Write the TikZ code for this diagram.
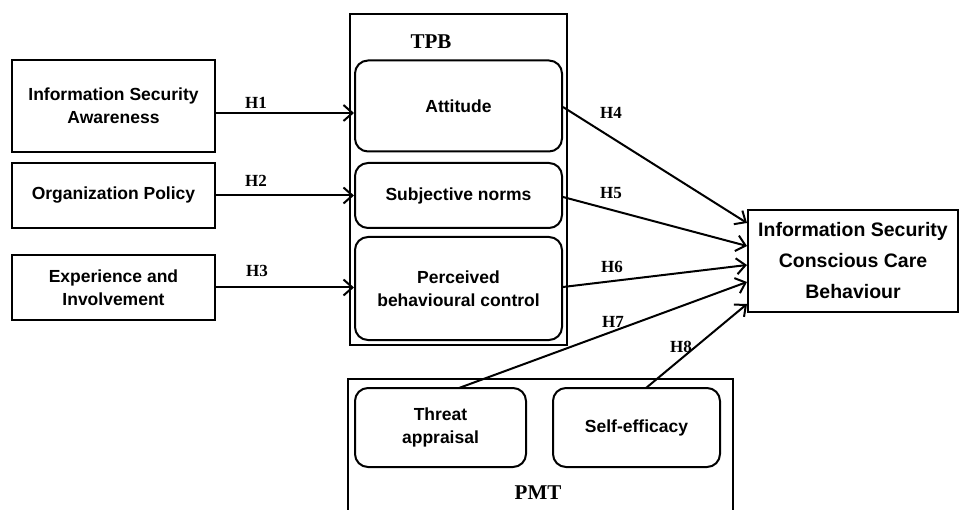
\documentclass[tikz,border=0pt]{standalone}
\usepackage{fontspec}
\setmainfont{Liberation Sans}
\newfontfamily\serifb{Liberation Serif}
\usetikzlibrary{arrows.meta}
\begin{document}
\begin{tikzpicture}[x=1pt,y=-1pt,
  box/.style={draw,line width=2.2pt,align=center,font=\fontsize{17.5}{23}\selectfont\bfseries,inner sep=0pt},
  rbox/.style={box,rounded corners=13pt,line width=2pt},
  outer/.style={draw,line width=2pt},
  hlab/.style={font=\serifb\fontsize{17}{20}\selectfont\bfseries,inner sep=0pt},
  ttl/.style={font=\serifb\fontsize{21}{24}\selectfont\bfseries,inner sep=0pt},
  arr/.style={line width=2pt,-{Straight Barb[length=9pt,width=16pt,line width=2pt]}}]
\useasboundingbox (0,0) rectangle (960,510);
\fill[white] (0,0) rectangle (960,510);
% outer frames
\draw[outer] (350,14) rectangle (567,345);
\node[ttl] (tpb) at (431,42) {TPB};
\draw[outer] (348,379) rectangle (733,520);
\node[ttl] (pmt) at (538,493) {PMT};
% left boxes
\node[box,minimum width=203pt,minimum height=92pt] (isa) at (113.5,106) {Information Security\\Awareness};
\node[box,minimum width=203pt,minimum height=65pt] (op) at (113.5,195.5) {Organization Policy};
\node[box,minimum width=203pt,minimum height=65pt] (ei) at (113.5,287.5) {Experience and\\Involvement};
% TPB inner
\node[rbox,minimum width=207pt,minimum height=91pt] (att) at (458.5,106) {Attitude};
\node[rbox,minimum width=207pt,minimum height=65pt] (sn) at (458.5,195.5) {Subjective norms};
\node[rbox,minimum width=207pt,minimum height=103pt] (pbc) at (458.5,288.5) {Perceived\\behavioural control};
% PMT inner
\node[rbox,minimum width=171pt,minimum height=79pt] (ta) at (440.5,427.5) {Threat\\appraisal};
\node[rbox,minimum width=167pt,minimum height=79pt] (se) at (636.5,427.5) {Self-efficacy};
% outcome
\node[box,minimum width=210pt,minimum height=102pt,font=\fontsize{19.5}{31}\selectfont\bfseries] (out) at (853,261) {Information Security\\Conscious Care\\Behaviour};
% arrows
\draw[arr] (isa.east |- 0,113) -- (att.west |- 0,113);
\draw[arr] (op.east) -- (sn.west);
\draw[arr] (ei.east) -- (pbc.west |- ei.east);
\coordinate (t4) at (747,223);
\coordinate (t5) at (747,246);
\coordinate (t6) at (747,265);
\coordinate (t7) at (747,282);
\coordinate (t8) at (747,304);
\draw[arr] (att.east |- 0,107) -- (t4);
\draw[arr] (sn.east |- 0,197) -- (t5);
\draw[arr] (pbc.east |- 0,287) -- (t6);
\draw[arr] (459,388) -- (t7);
\draw[arr] (646,388) -- (t8);
% labels
\node[hlab] (h1) at (256,103) {H1};
\node[hlab] (h2) at (256,181) {H2};
\node[hlab] (h3) at (257,271) {H3};
\node[hlab] (h4) at (611,113) {H4};
\node[hlab] (h5) at (611,193) {H5};
\node[hlab] (h6) at (612,267) {H6};
\node[hlab] (h7) at (613,322) {H7};
\node[hlab] (h8) at (681,347) {H8};
\end{tikzpicture}
\end{document}
